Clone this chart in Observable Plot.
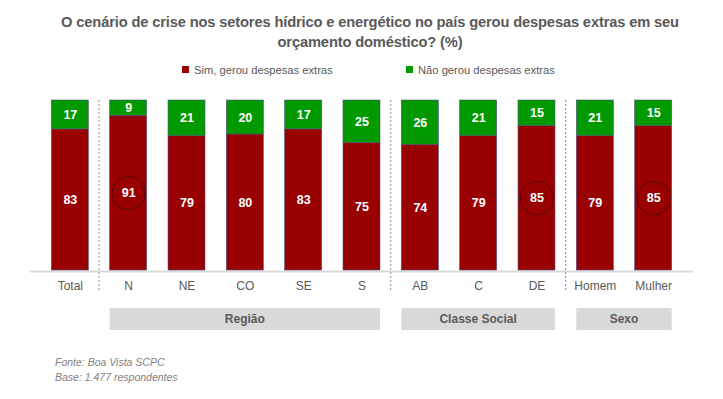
<!DOCTYPE html>
<html>
<head>
<meta charset="utf-8">
<script src="https://cdn.jsdelivr.net/npm/d3@7"></script>
<script src="https://cdn.jsdelivr.net/npm/@observablehq/plot@0.6"></script>
<style>
  body { margin: 0; background: #fff; }
  #wrap { position: relative; width: 723px; height: 399px; font-family: "Liberation Sans", Arial, sans-serif; overflow: hidden; }
  #wrap svg { position: absolute; left: 0; top: 0; }
  .title { position: absolute; left: 0; width: 740px; text-align: center; font-weight: bold; font-size: 14.7px; color: #595959; letter-spacing: -0.15px; }
  .leg { position: absolute; top: 64px; font-size: 11.2px; color: #595959; white-space: nowrap; }
  .leg span.sw { display: inline-block; width: 7px; height: 7px; margin-right: 5px; vertical-align: 1px; }
  .foot { position: absolute; left: 55px; font-size: 10.5px; font-style: italic; color: #7f7f7f; }
</style>
</head>
<body>
<div id="wrap">
  <div class="title" style="top:14px">O cenário de crise nos setores hídrico e energético no país gerou despesas extras em seu</div>
  <div class="title" style="top:34px">orçamento doméstico? (%)</div>
  <div class="leg" style="left:182px"><span class="sw" style="background:#990000"></span>Sim, gerou despesas extras</div>
  <div class="leg" style="left:406px"><span class="sw" style="background:#009900"></span>Não gerou despesas extras</div>
  <div class="foot" style="top:356px">Fonte: Boa Vista SCPC</div>
  <div class="foot" style="top:371px">Base: 1.477 respondentes</div>
</div>
<script>
const categories = ["Total","N","NE","CO","SE","S","AB","C","DE","Homem","Mulher"];
const sim = [83,91,79,80,83,75,74,79,85,79,85];
const nao = [17,9,21,20,17,25,26,21,15,21,15];
const series = ["Sim, gerou despesas extras","Não gerou despesas extras"];
const seriesColors = ["#990000","#009900"];
const highlighted = ["N","DE","Mulher"];
const separatorsAfter = ["Total","S","DE"];
const groups = [
  {label: "Região", from: "N", to: "S"},
  {label: "Classe Social", from: "AB", to: "DE"},
  {label: "Sexo", from: "Homem", to: "Mulher"}
];

const rows = [];
categories.forEach((c, i) => {
  rows.push({cat: c, serie: series[0], value: sim[i], y1: 0, y2: sim[i]});
  rows.push({cat: c, serie: series[1], value: nao[i], y1: sim[i], y2: sim[i] + nao[i]});
});
const circled = rows.filter(d => d.serie === series[0] && highlighted.includes(d.cat));

const W = 723, H = 399, mTop = 100, mBottom = 129;
const plot = Plot.plot({
  width: W, height: H,
  marginTop: mTop, marginBottom: mBottom, marginLeft: 30, marginRight: 30,
  style: {fontFamily: "Liberation Sans, Arial, sans-serif", fontSize: "12px", color: "#595959", background: "transparent"},
  x: {domain: categories, padding: 0.366, round: false, tickSize: 0, tickPadding: 11, label: null},
  y: {domain: [0, 100], axis: null},
  color: {domain: series, range: seriesColors},
  marks: [
    Plot.ruleY([0], {stroke: "#d9d9d9", strokeWidth: 2, dy: 1}),
    Plot.barY(rows, {x: "cat", y1: "y1", y2: "y2", fill: "serie", stroke: "#4f4f7f", strokeWidth: 0.6}),
    Plot.text(rows, {x: "cat", y: d => (d.y1 + d.y2) / 2, text: d => String(d.value), fill: "white", fontWeight: "bold", fontSize: 12.5}),
    Plot.dot(circled, {x: "cat", y: d => (d.y1 + d.y2) / 2, r: 16.5, stroke: "#111", strokeWidth: 1, strokeDasharray: "2,1.5", fill: "none"})
  ]
});
document.getElementById("wrap").prepend(plot);

// separators and group boxes positioned through Plot's own x scale
const xs = plot.scale("x");
const svg = d3.select(plot);
const baseY = H - mBottom;
separatorsAfter.forEach(c => {
  const xm = xs.apply(c) + xs.bandwidth + (xs.step - xs.bandwidth) / 2;
  svg.append("line").attr("x1", xm).attr("x2", xm).attr("y1", mTop).attr("y2", baseY + 22)
    .attr("stroke", "#8c8c8c").attr("stroke-width", 1).attr("stroke-dasharray", "2,2");
});
groups.forEach(g => {
  const x0 = xs.apply(g.from), x1 = xs.apply(g.to) + xs.bandwidth;
  svg.append("rect").attr("x", x0).attr("y", baseY + 38).attr("width", x1 - x0).attr("height", 22).attr("fill", "#d9d9d9");
  svg.append("text").attr("x", (x0 + x1) / 2).attr("y", baseY + 49).attr("dy", "0.35em")
    .attr("text-anchor", "middle").attr("fill", "#595959").attr("font-weight", "bold").attr("font-size", 12)
    .text(g.label);
});
</script>
</body>
</html>
